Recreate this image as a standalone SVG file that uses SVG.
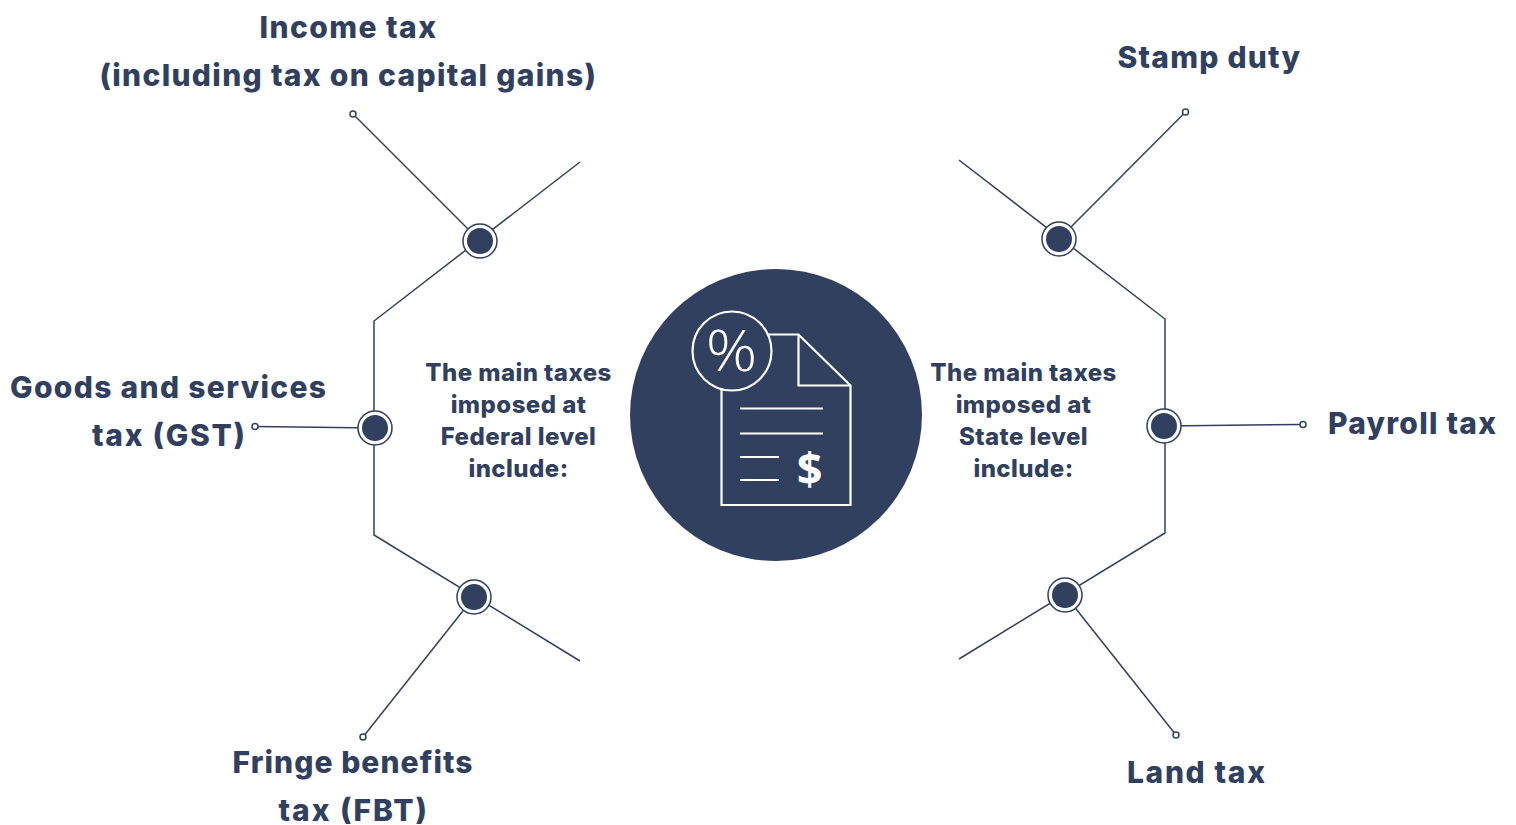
<svg xmlns="http://www.w3.org/2000/svg" width="1516" height="825" viewBox="0 0 1516 825">
<style>
text{font-family:Inter,"Liberation Sans",sans-serif;font-weight:800;fill:#31405f}
.h{font-size:30px}
.s{font-size:24px;letter-spacing:.45px;text-anchor:middle}
.c{fill:none;stroke:#31405f;stroke-width:1.5}
.end{fill:#fff;stroke:#31405f;stroke-width:1.5}
.ring{fill:#fff;stroke:#31405f;stroke-width:1.5}
.dot{fill:#31405f}
.ic{fill:none;stroke:#fff;stroke-width:2.2}
</style>
<rect width="1516" height="825" fill="#fff"/>
<g id="connectors">
<path class="c" d="M580 162L374 321V535L580 661"/>
<path class="c" d="M959 160L1165 319V533L959 659"/>
<path class="c" d="M353 114L480 241"/>
<path class="c" d="M255 426.500L375 428"/>
<path class="c" d="M363 737L474 597"/>
<path class="c" d="M1185.500 112L1059 239"/>
<path class="c" d="M1303 424.500L1164 426"/>
<path class="c" d="M1176 735L1065 595"/>
</g>
<g id="node-income"><circle class="end" cx="353" cy="114" r="3"/><circle class="ring" cx="480" cy="241" r="17"/><circle class="dot" cx="480" cy="241" r="13"/><text class="h" x="259.500" y="38" textLength="176.500">Income tax</text><text class="h" x="99.500" y="86" textLength="496.500">(including tax on capital gains)</text></g>
<g id="node-gst"><circle class="end" cx="255" cy="426.500" r="3"/><circle class="ring" cx="375" cy="428" r="17"/><circle class="dot" cx="375" cy="428" r="13"/><text class="h" x="10" y="398" textLength="316">Goods and services</text><text class="h" x="92" y="446" textLength="153">tax (GST)</text></g>
<g id="node-fbt"><circle class="end" cx="363" cy="737" r="3"/><circle class="ring" cx="474" cy="597" r="17"/><circle class="dot" cx="474" cy="597" r="13"/><text class="h" x="232.500" y="773" textLength="240">Fringe benefits</text><text class="h" x="278.500" y="821" textLength="148.500">tax (FBT)</text></g>
<g id="node-stamp"><circle class="end" cx="1185.500" cy="112" r="3"/><circle class="ring" cx="1059" cy="239" r="17"/><circle class="dot" cx="1059" cy="239" r="13"/><text class="h" x="1117.500" y="68" textLength="182.500">Stamp duty</text></g>
<g id="node-payroll"><circle class="end" cx="1303" cy="424.500" r="3"/><circle class="ring" cx="1164" cy="426" r="17"/><circle class="dot" cx="1164" cy="426" r="13"/><text class="h" x="1328" y="434" textLength="168">Payroll tax</text></g>
<g id="node-land"><circle class="end" cx="1176" cy="735" r="3"/><circle class="ring" cx="1065" cy="595" r="17"/><circle class="dot" cx="1065" cy="595" r="13"/><text class="h" x="1127" y="783" textLength="138">Land tax</text></g>
<g id="label-federal"><text class="s" x="518.500" y="381">The main taxes</text><text class="s" x="518.500" y="413">imposed at</text><text class="s" x="518.500" y="445">Federal level</text><text class="s" x="518.500" y="477">include:</text></g>
<g id="label-state"><text class="s" x="1023.500" y="381">The main taxes</text><text class="s" x="1023.500" y="413">imposed at</text><text class="s" x="1023.500" y="445">State level</text><text class="s" x="1023.500" y="477">include:</text></g>
<g id="center">
<circle cx="776" cy="415" r="146" fill="#31405f"/>
<path class="ic" d="M721.500 388V505H850.500V385.500L798.500 334.500H768"/>
<path class="ic" d="M798.500 334.500V385.500H850.500"/>
<circle class="ic" cx="732" cy="351" r="39.500"/>
<path class="ic" d="M740 408.500H823M740 433.500H823M740 457H779M740 480H779"/>
<text transform="translate(731.500 371) scale(1.1 1)" text-anchor="middle" style="font-family:'Open Sans';font-weight:300;font-size:58px;fill:#fff">%</text>
<text x="809.500" y="485" text-anchor="middle" style="font-family:'Open Sans';font-weight:700;font-size:45px;fill:#fff">$</text>
</g>
</svg>
